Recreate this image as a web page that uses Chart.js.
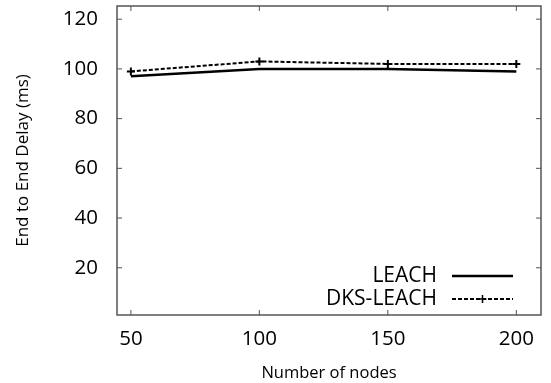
<!DOCTYPE html>
<html>
<head>
<meta charset="utf-8">
<script src="https://cdn.jsdelivr.net/npm/chart.js@4"></script>
<style>
  html, body { margin: 0; padding: 0; background: #fff; }
  #wrap { width: 551px; height: 383px; }
</style>
</head>
<body>
<div id="wrap"><canvas id="chart" width="551" height="383"></canvas></div>
<script>
// Data
const nodes = [50, 100, 150, 200];
const leach = [97, 100, 100, 99];
const dksLeach = [99, 103, 102, 102];
const xTicks = [50, 100, 150, 200];
const yTicks = [20, 40, 60, 80, 100, 120];

const FONT = "'Open Sans', 'DejaVu Sans', sans-serif";

// gnuplot style frame: border box, inward ticks on all sides, legend inside
const framePlugin = {
    id: 'frame',
    afterDraw(chart) {
        const ctx = chart.ctx;
        const a = chart.chartArea;
        const xs = chart.scales.x, ys = chart.scales.y;
        ctx.save();
        ctx.strokeStyle = '#555';
        ctx.lineWidth = 1.5;
        ctx.strokeRect(a.left, a.top, a.right - a.left, a.bottom - a.top);
        ctx.lineWidth = 1;
        const t = 5;
        xTicks.forEach(v => {
            const px = xs.getPixelForValue(v);
            ctx.beginPath();
            ctx.moveTo(px, a.bottom); ctx.lineTo(px, a.bottom - t);
            ctx.moveTo(px, a.top); ctx.lineTo(px, a.top + t);
            ctx.stroke();
        });
        yTicks.forEach(v => {
            const py = ys.getPixelForValue(v);
            ctx.beginPath();
            ctx.moveTo(a.left, py); ctx.lineTo(a.left + t, py);
            ctx.moveTo(a.right, py); ctx.lineTo(a.right - t, py);
            ctx.stroke();
        });

        // legend
        ctx.font = '21px ' + FONT;
        ctx.fillStyle = '#000';
        ctx.textAlign = 'right';
        ctx.textBaseline = 'middle';
        const rows = [276, 299];
        chart.data.datasets.forEach((ds, i) => {
            const y = rows[i];
            ctx.fillText(ds.label, 437, y);
            ctx.beginPath();
            ctx.strokeStyle = ds.borderColor;
            ctx.lineWidth = ds.borderWidth;
            ctx.setLineDash(ds.borderDash || []);
            ctx.moveTo(452, y); ctx.lineTo(513, y);
            ctx.stroke();
            ctx.setLineDash([]);
            if (ds.pointRadius > 0) {
                const mx = 482.5, r = ds.pointRadius;
                ctx.lineWidth = 1.5;
                ctx.beginPath();
                ctx.moveTo(mx - r, y); ctx.lineTo(mx + r, y);
                ctx.moveTo(mx, y - r); ctx.lineTo(mx, y + r);
                ctx.stroke();
            }
        });
        ctx.restore();
    }
};

new Chart(document.getElementById('chart'), {
    type: 'line',
    data: {
        datasets: [{
            label: 'LEACH',
            data: nodes.map((x, i) => ({ x: x, y: leach[i] })),
            borderColor: '#000',
            borderWidth: 2.5,
            pointRadius: 0,
            tension: 0
        }, {
            label: 'DKS-LEACH',
            data: nodes.map((x, i) => ({ x: x, y: dksLeach[i] })),
            borderColor: '#000',
            borderWidth: 2,
            borderDash: [4, 2],
            pointStyle: 'cross',
            pointRadius: 4,
            pointBorderWidth: 2,
            pointBorderColor: '#000',
            tension: 0
        }]
    },
    options: {
        responsive: false,
        animation: false,
        layout: { padding: { top: 5, right: 10, left: 0, bottom: 0 } },
        plugins: {
            legend: { display: false },
            tooltip: { enabled: false }
        },
        scales: {
            x: {
                type: 'linear',
                min: 44.6,
                max: 209.6,
                afterBuildTicks: s => { s.ticks = xTicks.map(v => ({ value: v })); },
                afterFit: s => { s.height = 68; s.paddingLeft = 0; s.paddingRight = 0; },
                grid: { display: false, drawTicks: false },
                border: { display: false },
                ticks: { color: '#000', font: { family: FONT, size: 20.5 }, padding: 12, maxRotation: 0 },
                title: {
                    display: true,
                    text: 'Number of nodes',
                    color: '#000',
                    font: { family: FONT, size: 16.5 },
                    padding: { top: 4, bottom: 0 }
                }
            },
            y: {
                min: 1,
                max: 125.3,
                afterBuildTicks: s => { s.ticks = yTicks.map(v => ({ value: v })); },
                afterFit: s => { s.width = 117; s.paddingTop = 0; s.paddingBottom = 0; },
                grid: { display: false, drawTicks: false },
                border: { display: false },
                ticks: { color: '#000', font: { family: FONT, size: 20.5 }, padding: 19 },
                title: {
                    display: true,
                    text: 'End to End Delay (ms)',
                    color: '#000',
                    font: { family: FONT, size: 17 },
                    padding: { top: 13, bottom: 0 }
                }
            }
        }
    },
    plugins: [framePlugin]
});
</script>
</body>
</html>
